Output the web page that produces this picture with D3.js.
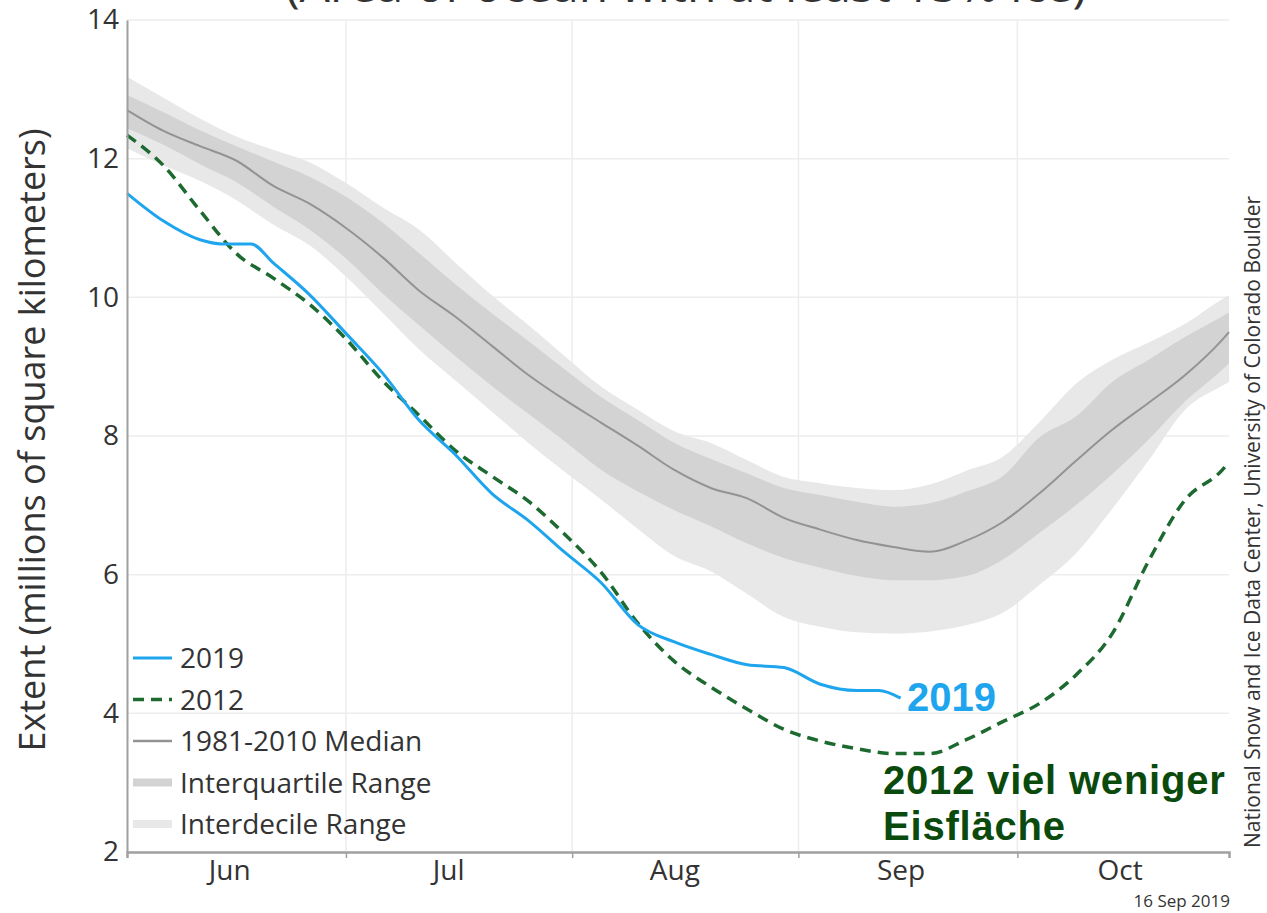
<!DOCTYPE html>
<html lang="en">
<head>
   <meta charset="UTF-8">
   <title>Arctic Sea Ice Extent</title>
   <script src="https://cdn.jsdelivr.net/npm/d3@7"></script>
   <style>
      body { margin: 0; background: #fff; }
   </style>
</head>
<body>
   <div class="d3"></div>
   <script>
      // data: days counted from 1 June 2019, extent in millions of km²
      const DAYS = [0, 5, 10, 15, 20, 25, 30, 35, 40, 45, 50, 55, 60, 65, 70, 75,
                    80, 85, 90, 95, 100, 105, 110, 115, 120, 125, 130, 135, 140, 145, 150, 151]

      const MEDIAN = [12.70, 12.40, 12.18, 11.97, 11.61, 11.35, 11.00, 10.58, 10.10, 9.72, 9.30, 8.88, 8.52, 8.19, 7.86, 7.51,
                      7.25, 7.10, 6.82, 6.65, 6.50, 6.40, 6.33, 6.49, 6.76, 7.17, 7.64, 8.09, 8.48, 8.88, 9.38, 9.50]
      const IQR_HI = [12.92, 12.67, 12.41, 12.18, 11.96, 11.74, 11.45, 11.08, 10.64, 10.19, 9.77, 9.37, 8.96, 8.56, 8.23, 7.90,
                      7.67, 7.46, 7.25, 7.15, 7.05, 6.98, 7.03, 7.20, 7.42, 7.98, 8.28, 8.78, 9.10, 9.43, 9.72, 9.78]
      const IQR_LO = [12.44, 12.20, 11.92, 11.66, 11.31, 10.98, 10.56, 10.06, 9.60, 9.15, 8.72, 8.32, 7.92, 7.51, 7.20, 6.93,
                      6.70, 6.45, 6.24, 6.10, 5.98, 5.92, 5.92, 5.98, 6.22, 6.60, 7.00, 7.45, 7.95, 8.50, 8.95, 9.05]
      const IDR_HI = [13.18, 12.88, 12.58, 12.32, 12.13, 11.95, 11.65, 11.30, 10.98, 10.50, 10.03, 9.60, 9.15, 8.71, 8.38, 8.07,
                      7.90, 7.65, 7.41, 7.32, 7.25, 7.22, 7.30, 7.50, 7.70, 8.20, 8.75, 9.10, 9.35, 9.62, 9.97, 10.03]
      const IDR_LO = [12.15, 11.90, 11.68, 11.40, 11.05, 10.75, 10.30, 9.78, 9.25, 8.80, 8.35, 7.90, 7.48, 7.08, 6.66, 6.27,
                      6.05, 5.72, 5.39, 5.25, 5.17, 5.15, 5.18, 5.27, 5.45, 5.85, 6.30, 6.95, 7.65, 8.38, 8.72, 8.78]

      const Y2012 = [12.34, 11.90, 11.25, 10.63, 10.28, 9.90, 9.40, 8.80, 8.30, 7.79, 7.42, 7.06, 6.58, 6.03, 5.30, 4.75,
                     4.38, 4.06, 3.77, 3.60, 3.49, 3.42, 3.42, 3.62, 3.88, 4.14, 4.55, 5.15, 6.20, 7.08, 7.50, 7.62]

      const DAYS_2019 = [0, 5, 10, 13, 17, 20, 25, 30, 35, 40, 45, 50, 55, 60, 65, 70, 75, 80, 85, 90, 95, 100, 103, 106]
      const Y2019 = [11.50, 11.10, 10.83, 10.77, 10.77, 10.50, 10.04, 9.48, 8.91, 8.23, 7.73, 7.17, 6.78, 6.32, 5.88, 5.28,
                     5.03, 4.85, 4.70, 4.66, 4.42, 4.33, 4.33, 4.22]

      const MONTHS = ['Jun', 'Jul', 'Aug', 'Sep', 'Oct']
      const MONTH_STARTS = [0, 30, 61, 92, 122]
      const Y_TICKS = [2, 4, 6, 8, 10, 12, 14]

      const LEGEND = ['2019', '2012', '1981-2010 Median', 'Interquartile Range', 'Interdecile Range']

      function visualize() {
         const WIDTH = 1267
         const HEIGHT = 913

         const LEFT = 127
         const RIGHT = 1229
         const TOP = 20
         const BOTTOM = 852

         const FONT = "'Open Sans', sans-serif"
         const FONT_BOLD = "'Liberation Sans', Arial, sans-serif"

         const C_2019 = '#1ea5ee'
         const C_2012 = '#1d6a30'
         const C_MEDIAN = '#939393'
         const C_IQR = '#d3d3d3'
         const C_IDR = '#e8e8e8'
         const C_GRID = '#ededed'
         const C_AXIS = '#a0a0a0'
         const C_TEXT = '#333'
         const C_NOTE = '#0b4a0d'
         const DASH = '11,7'

         const svg = d3.select('.d3').append('svg')
            .attr('width', WIDTH)
            .attr('height', HEIGHT)
            .style('font-family', FONT)

         const x = d3.scaleLinear().domain([0, 151]).range([LEFT, RIGHT])
         const y = d3.scaleLinear().domain([2, 14]).range([BOTTOM, TOP])

         // gridlines
         svg.append('g')
            .selectAll('line')
            .data(Y_TICKS.slice(1))
            .join('line')
            .attr('x1', LEFT).attr('x2', RIGHT)
            .attr('y1', d => y(d)).attr('y2', d => y(d))
            .attr('stroke', C_GRID)
            .attr('stroke-width', 1.5)

         svg.append('g')
            .selectAll('line')
            .data(MONTH_STARTS.slice(1))
            .join('line')
            .attr('x1', d => x(d)).attr('x2', d => x(d))
            .attr('y1', TOP).attr('y2', BOTTOM)
            .attr('stroke', C_GRID)
            .attr('stroke-width', 1.5)

         // bands
         const band = (lo, hi) => d3.area()
            .x((d, i) => x(DAYS[i]))
            .y0((d, i) => y(lo[i]))
            .y1((d, i) => y(hi[i]))
            .curve(d3.curveMonotoneX)

         svg.append('path')
            .attr('d', band(IDR_LO, IDR_HI)(DAYS))
            .attr('fill', C_IDR)

         svg.append('path')
            .attr('d', band(IQR_LO, IQR_HI)(DAYS))
            .attr('fill', C_IQR)

         const line = (xs, ys) => d3.line()
            .x((d, i) => x(xs[i]))
            .y(d => y(d))
            .curve(d3.curveMonotoneX)(ys)

         svg.append('path')
            .attr('d', line(DAYS, MEDIAN))
            .attr('fill', 'none')
            .attr('stroke', C_MEDIAN)
            .attr('stroke-width', 2)

         svg.append('path')
            .attr('d', line(DAYS, Y2012))
            .attr('fill', 'none')
            .attr('stroke', C_2012)
            .attr('stroke-width', 3.5)
            .attr('stroke-dasharray', DASH)

         svg.append('path')
            .attr('d', line(DAYS_2019, Y2019))
            .attr('fill', 'none')
            .attr('stroke', C_2019)
            .attr('stroke-width', 3)

         // axes
         const yAxis = svg.append('g')
            .attr('transform', `translate(${LEFT},0)`)
            .call(d3.axisLeft(y).tickValues(Y_TICKS).tickSize(0).tickPadding(8))
         yAxis.select('.domain').attr('stroke', C_AXIS).attr('stroke-width', 2)
         yAxis.selectAll('text')
            .style('font-family', FONT)
            .attr('font-size', 28)
            .attr('fill', C_TEXT)

         const xAxis = svg.append('g')
            .attr('transform', `translate(0,${BOTTOM})`)
            .call(d3.axisBottom(x).tickValues(MONTH_STARTS.slice(1)).tickSize(6).tickFormat(''))
         xAxis.select('.domain').attr('stroke', C_AXIS).attr('stroke-width', 2.5)
         xAxis.selectAll('.tick line').attr('stroke', C_AXIS).attr('stroke-width', 1.5)

         // month names sit on the 15th
         const monthLabels = svg.append('g')
            .attr('transform', `translate(0,${BOTTOM})`)
            .call(d3.axisBottom(x)
               .tickValues(MONTH_STARTS.map(d => d + 14))
               .tickFormat((d, i) => MONTHS[i])
               .tickSize(0)
               .tickPadding(8))
         monthLabels.select('.domain').remove()
         monthLabels.selectAll('text')
            .style('font-family', FONT)
            .attr('font-size', 28)
            .attr('fill', C_TEXT)

         // titles (the chart title is cut off by the top edge, as in the source)
         svg.append('text')
            .attr('x', 686).attr('y', 2)
            .attr('text-anchor', 'middle')
            .attr('font-size', 48)
            .attr('fill', C_TEXT)
            .text('(Area of ocean with at least 15% ice)')

         svg.append('text')
            .attr('transform', 'translate(45,440) rotate(-90)')
            .attr('text-anchor', 'middle')
            .attr('font-size', 36)
            .attr('fill', C_TEXT)
            .text('Extent (millions of square kilometers)')

         svg.append('text')
            .attr('transform', 'translate(1260,848) rotate(-90)')
            .attr('font-size', 21)
            .attr('fill', C_TEXT)
            .text('National Snow and Ice Data Center, University of Colorado Boulder')

         svg.append('text')
            .attr('x', 1230).attr('y', 907)
            .attr('text-anchor', 'end')
            .attr('font-size', 17)
            .attr('fill', C_TEXT)
            .text('16 Sep 2019')

         // legend
         const legend = svg.append('g').attr('transform', 'translate(133,658)')
         const ROW = 41.5
         const swatches = [
            { stroke: C_2019, width: 3, dash: null },
            { stroke: C_2012, width: 3.5, dash: DASH },
            { stroke: C_MEDIAN, width: 2.5, dash: null },
            { stroke: C_IQR, width: 8, dash: null },
            { stroke: C_IDR, width: 8, dash: null }
         ]
         LEGEND.forEach((label, i) => {
            const row = legend.append('g').attr('transform', `translate(0,${i * ROW})`)
            row.append('line')
               .attr('x1', 0).attr('x2', 39)
               .attr('stroke', swatches[i].stroke)
               .attr('stroke-width', swatches[i].width)
               .attr('stroke-dasharray', swatches[i].dash)
            row.append('text')
               .attr('x', 47).attr('y', 10)
               .attr('font-size', 28)
               .attr('fill', C_TEXT)
               .text(label)
         })

         // annotations
         svg.append('text')
            .attr('x', 907).attr('y', 711)
            .style('font-family', FONT_BOLD)
            .attr('font-weight', 'bold')
            .attr('font-size', 40)
            .attr('fill', C_2019)
            .text('2019')

         const notes = ['2012 viel weniger', 'Eisfläche']
         notes.forEach((t, i) => {
            svg.append('text')
               .attr('x', 883).attr('y', 794 + i * 46)
               .style('font-family', FONT_BOLD)
               .attr('font-weight', 'bold')
               .attr('font-size', 40)
               .attr('letter-spacing', 0.8)
               .attr('fill', C_NOTE)
               .text(t)
         })
      }

      visualize()
   </script>
</body>
</html>
